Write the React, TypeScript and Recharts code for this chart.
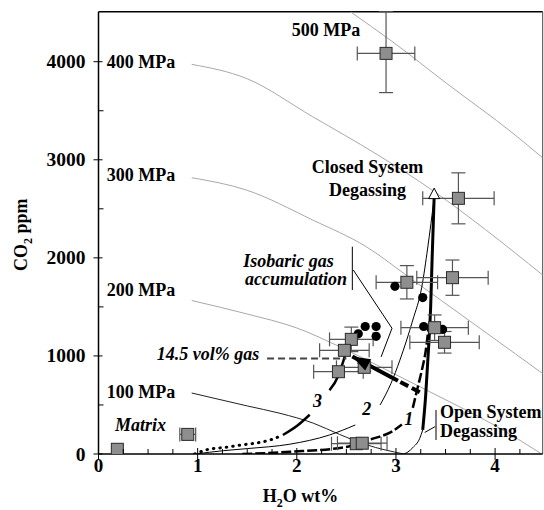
import React from 'react';
import { ComposedChart, XAxis, YAxis, Line, Scatter, ErrorBar, ReferenceLine, ReferenceDot } from 'recharts';

const FONT = '"Liberation Serif", "Times New Roman", Times, serif';

// isobars: CO2 (ppm) against H2O (wt%)
const isobar100 = [
  { x: 0.94, y: 622 }, { x: 1.5, y: 490 }, { x: 1.83, y: 415 }, { x: 2.17, y: 313 },
  { x: 2.43, y: 200 }, { x: 2.7, y: 95 }, { x: 3.08, y: 0 },
];
const isobar200 = [
  { x: 0.94, y: 1565 }, { x: 1.49, y: 1430 }, { x: 2.0, y: 1285 }, { x: 2.45, y: 1085 },
  { x: 2.9, y: 860 }, { x: 3.34, y: 635 }, { x: 3.64, y: 482 }, { x: 4.0, y: 290 }, { x: 4.47, y: 0 },
];
const isobar300 = [
  { x: 0.94, y: 2817 }, { x: 1.49, y: 2692 }, { x: 2.16, y: 2386 }, { x: 2.7, y: 2114 },
  { x: 3.17, y: 1774 }, { x: 3.85, y: 1280 }, { x: 4.48, y: 820 },
];
const isobar400 = [
  { x: 0.94, y: 3973 }, { x: 1.49, y: 3830 }, { x: 2.16, y: 3439 }, { x: 2.8, y: 3060 },
  { x: 3.38, y: 2680 }, { x: 3.9, y: 2290 }, { x: 4.48, y: 1825 },
];
const isobar500 = [
  { x: 2.54, y: 4510 }, { x: 2.97, y: 4200 }, { x: 3.51, y: 3780 }, { x: 4.18, y: 3270 }, { x: 4.48, y: 3020 },
];

// degassing paths
const closedSystem = [
  { x: 3.27, y: 245 }, { x: 3.3, y: 600 }, { x: 3.33, y: 1100 }, { x: 3.35, y: 1500 },
  { x: 3.365, y: 2000 }, { x: 3.385, y: 2610 },
];
const openTail = [
  { x: 3.08, y: 0 }, { x: 3.12, y: 20 }, { x: 3.17, y: 65 }, { x: 3.24, y: 160 }, { x: 3.27, y: 245 },
];
const path1Low = [
  { x: 1.45, y: 0 }, { x: 1.93, y: 22 }, { x: 2.5, y: 72 }, { x: 2.75, y: 150 }, { x: 2.97, y: 235 }, { x: 3.06, y: 300 },
];
const path1High = [
  { x: 3.17, y: 470 }, { x: 3.21, y: 640 }, { x: 3.26, y: 850 }, { x: 3.3, y: 1050 }, { x: 3.33, y: 1300 },
];
const path2Low = [
  { x: 0.98, y: 0 }, { x: 1.26, y: 34 }, { x: 1.5, y: 55 }, { x: 1.93, y: 100 }, { x: 2.33, y: 194 }, { x: 2.59, y: 296 },
];
const path2High = [
  { x: 2.84, y: 500 }, { x: 2.95, y: 720 }, { x: 3.04, y: 958 }, { x: 3.17, y: 1366 },
  { x: 3.26, y: 1700 }, { x: 3.32, y: 2100 }, { x: 3.385, y: 2610 },
];
const path3Dots = [
  { x: 0.97, y: 0 }, { x: 1.1, y: 45 }, { x: 1.28, y: 68 }, { x: 1.44, y: 92 },
  { x: 1.59, y: 112 }, { x: 1.73, y: 143 }, { x: 1.86, y: 194 },
];
const path3Mid = [{ x: 1.86, y: 194 }, { x: 2.0, y: 285 }, { x: 2.13, y: 400 }];
const path3High = [{ x: 2.33, y: 650 }, { x: 2.42, y: 800 }, { x: 2.47, y: 950 }, { x: 2.51, y: 1080 }];

const gasLine = [{ x: 1.7, y: 975 }, { x: 2.5, y: 975 }];
const arrowDashed = [{ x: 3.24, y: 630 }, { x: 3.02, y: 748 }];
const arrowSolid = [{ x: 3.02, y: 748 }, { x: 2.56, y: 995 }];
const arrowTip = [{ x: 2.56, y: 995 }];
const startPoint = [{ x: 3.385, y: 2650 }];

// leader lines for the notes
const isobaricBar = [{ x: 2.56, y: 1672 }, { x: 2.56, y: 2114 }];
const isobaricLeader = [{ x: 2.57, y: 1876 }, { x: 2.96, y: 1282 }, { x: 2.85, y: 990 }];
const openBar = [{ x: 3.404, y: 143 }, { x: 3.404, y: 449 }];
const openLeader = [{ x: 3.395, y: 279 }, { x: 3.29, y: 220 }];

// melt inclusions (grey squares) with errors
const inclusions = [
  { x: 2.9, y: 4085, ex: 0.29, ey: [400, 425] },
  { x: 3.63, y: 2607, ex: 0.36, ey: 260 },
  { x: 3.11, y: 1751, ex: 0.31, ey: 170 },
  { x: 3.57, y: 1798, ex: 0.36, ey: 180 },
  { x: 3.39, y: 1288, ex: 0.34, ey: 130 },
  { x: 3.49, y: 1139, ex: 0.35, ey: 110 },
  { x: 2.55, y: 1169, ex: 0.22, ey: 125 },
  { x: 2.48, y: 1057, ex: 0.25, ey: 0 },
  { x: 2.42, y: 839, ex: 0.25, ey: 0 },
  { x: 2.68, y: 884, ex: 0.28, ey: 40 },
  { x: 2.6, y: 105, ex: 0.25, ey: 0 },
  { x: 2.66, y: 110, ex: 0.25, ey: 0 },
];
const matrix = [
  { x: 0.19, y: 48, ex: 0, ey: 0 },
  { x: 0.9, y: 200, ex: 0.08, ey: 0 },
];
const blackDots = [
  { x: 2.62, y: 1225 }, { x: 2.69, y: 1300 }, { x: 2.8, y: 1300 }, { x: 2.8, y: 1200 },
  { x: 2.99, y: 1710 }, { x: 3.27, y: 1595 }, { x: 3.28, y: 1300 }, { x: 3.47, y: 1270 },
];

const xTicks = [0, 0.25, 0.5, 0.75, 1, 1.25, 1.5, 1.75, 2, 2.25, 2.5, 2.75, 3, 3.25, 3.5, 3.75, 4, 4.25];
const yTicks = [0, 500, 1000, 1500, 2000, 2500, 3000, 3500, 4000];

type Note = { x: number; y: number; text: string; anchor?: 'start' | 'middle' | 'end'; italic?: boolean };
const notes: Note[] = [
  { x: 1.949, y: 4262, text: '500 MPa' },
  { x: 0.083, y: 3933, text: '400 MPa' },
  { x: 0.083, y: 2784, text: '300 MPa' },
  { x: 0.083, y: 1611, text: '200 MPa' },
  { x: 0.083, y: 574, text: '100 MPa' },
  { x: 0.167, y: 238, text: 'Matrix', italic: true },
  { x: 0.587, y: 958, text: '14.5 vol% gas', italic: true },
  { x: 1.46, y: 1910, text: 'Isobaric gas', italic: true },
  { x: 1.478, y: 1723, text: 'accumulation', italic: true },
  { x: 2.713, y: 2862, text: 'Closed System', anchor: 'middle' },
  { x: 2.713, y: 2631, text: 'Degassing', anchor: 'middle' },
  { x: 3.444, y: 363, text: 'Open System' },
  { x: 3.444, y: 176, text: 'Degassing' },
  { x: 2.209, y: 482, text: '3', anchor: 'middle', italic: true },
  { x: 2.705, y: 398, text: '2', anchor: 'middle', italic: true },
  { x: 3.13, y: 296, text: '1', anchor: 'middle', italic: true },
];

const XTick = (p: any) => {
  const v = p.payload.value;
  const major = Number.isInteger(v);
  return (
    <g>
      <line x1={p.x} x2={p.x} y1={p.y - (major ? 6 : 5)} y2={p.y + (major ? 6 : 0)} stroke="#000" />
      {major && (
        <text x={p.x} y={p.y + 18} textAnchor="middle" fontFamily={FONT} fontWeight="bold" fontSize={19} fill="#000">
          {v}
        </text>
      )}
    </g>
  );
};

const YTick = (p: any) => {
  const v = p.payload.value;
  const major = v % 1000 === 0;
  return (
    <g>
      <line x1={p.x - (major ? 5 : 0)} x2={p.x + (major ? 4 : 5)} y1={p.y} y2={p.y} stroke="#000" />
      {major && (
        <text x={p.x - 13} y={p.y + 6.5} textAnchor="end" fontFamily={FONT} fontWeight="bold" fontSize={19.5} fill="#000">
          {v}
        </text>
      )}
    </g>
  );
};

const YTitle = (p: any) => {
  const vb = p.viewBox;
  const cx = vb.x + 27;
  const cy = vb.y + vb.height / 2 + 2;
  return (
    <text x={cx} y={cy} transform={`rotate(-90 ${cx} ${cy})`} textAnchor="middle" fontFamily={FONT} fontWeight="bold" fontSize={18} fill="#000">
      CO<tspan fontSize={12} dy={5}>2</tspan><tspan dy={-5}> ppm</tspan>
    </text>
  );
};

const XTitle = (p: any) => {
  const vb = p.viewBox;
  return (
    <text x={vb.x + vb.width * 0.455} y={vb.y + 48} textAnchor="middle" fontFamily={FONT} fontWeight="bold" fontSize={18} fill="#000">
      H<tspan fontSize={12} dy={5}>2</tspan><tspan dy={-5}>O wt%</tspan>
    </text>
  );
};

const Square = (p: any) => (
  <rect x={p.cx - 6} y={p.cy - 6} width={12} height={12} fill="#8e8e8e" stroke="#2a2a2a" strokeWidth={1} />
);
const Dot = (p: any) => <circle cx={p.cx} cy={p.cy} r={4.6} fill="#000" />;
const Triangle = (p: any) => (
  <polygon
    points={`${p.cx},${p.cy - 6} ${p.cx - 5.5},${p.cy + 4.5} ${p.cx + 5.5},${p.cy + 4.5}`}
    fill="#fff"
    stroke="#000"
    strokeWidth={1}
  />
);
const ArrowHead = (p: any) => (
  <polygon points="0,0 -18,-6.5 -18,6.5" fill="#000" transform={`translate(${p.cx} ${p.cy}) rotate(208)`} />
);

const path = (data: { x: number; y: number }[], stroke: string, width: number, extra: any = {}) => (
  <Line
    data={data}
    dataKey="y"
    type="monotone"
    stroke={stroke}
    strokeWidth={width}
    dot={false}
    activeDot={false}
    legendType="none"
    isAnimationActive={false}
    {...extra}
  />
);

export default function App() {
  return (
    <div style={{ position: 'absolute', left: 0, top: 0, width: 544, height: 510, background: '#fff' }}>
      <ComposedChart width={544} height={510} margin={{ top: 11.7, right: 1.3, bottom: 0, left: 0 }}>
        <XAxis
          type="number"
          dataKey="x"
          domain={[0, 4.48]}
          allowDataOverflow
          ticks={xTicks}
          interval={0}
          tickSize={0}
          tickMargin={0}
          tickLine={false}
          tick={XTick}
          height={56}
          axisLine={{ stroke: '#000', strokeWidth: 1.5 }}
          label={<XTitle />}
        />
        <YAxis
          type="number"
          dataKey="y"
          domain={[0, 4510]}
          allowDataOverflow
          ticks={yTicks}
          interval={0}
          tickSize={0}
          tickMargin={0}
          tickLine={false}
          tick={YTick}
          width={98.5}
          axisLine={{ stroke: '#000', strokeWidth: 1.5 }}
          label={<YTitle />}
        />
        <ReferenceLine y={4510} stroke="#000" strokeWidth={1.5} />
        <ReferenceLine x={4.48} stroke="#444" strokeWidth={1} />

        {path(isobar500, '#a8a8a8', 1)}
        {path(isobar400, '#a8a8a8', 1)}
        {path(isobar300, '#a8a8a8', 1)}
        {path(isobar200, '#a8a8a8', 1)}
        {path(isobar100, '#222', 1)}

        {path(path3Dots, '#000', 3, { strokeDasharray: '0.5 6', strokeLinecap: 'round' })}
        {path(path3Mid, '#000', 2.5)}
        {path(path3High, '#000', 2.5)}
        {path(path2Low, '#000', 1)}
        {path(path2High, '#000', 1)}
        {path(path1Low, '#000', 2.5, { strokeDasharray: '10 3' })}
        {path(path1High, '#000', 2.5, { strokeDasharray: '10 3' })}
        {path(openTail, '#000', 1)}
        {path(closedSystem, '#000', 3)}
        {path(gasLine, '#444', 2, { strokeDasharray: '7 4', type: 'linear' })}

        {path(isobaricBar, '#000', 1, { type: 'linear' })}
        {path(isobaricLeader, '#000', 1, { type: 'linear' })}
        {path(openBar, '#000', 1, { type: 'linear' })}
        {path(openLeader, '#000', 1, { type: 'linear' })}

        <Scatter data={blackDots} shape={Dot} isAnimationActive={false} legendType="none" />
        <Scatter data={inclusions} shape={Square} isAnimationActive={false} legendType="none">
          <ErrorBar dataKey="ex" direction="x" width={7} stroke="#555" strokeWidth={1.2} />
          <ErrorBar dataKey="ey" direction="y" width={7} stroke="#555" strokeWidth={1.2} />
        </Scatter>
        <Scatter data={matrix} shape={Square} isAnimationActive={false} legendType="none">
          <ErrorBar dataKey="ex" direction="x" width={7} stroke="#555" strokeWidth={1.2} />
        </Scatter>

        {path(arrowDashed, '#000', 4, { type: 'linear', strokeDasharray: '9 4' })}
        {path(arrowSolid, '#000', 4, { type: 'linear' })}
        <Scatter data={arrowTip} shape={ArrowHead} isAnimationActive={false} legendType="none" />
        <Scatter data={startPoint} shape={Triangle} isAnimationActive={false} legendType="none" />

        {notes.map((n, i) => (
          <ReferenceDot
            key={i}
            x={n.x}
            y={n.y}
            r={0}
            shape={(p: any) => (
              <text
                x={p.cx}
                y={p.cy}
                textAnchor={n.anchor || 'start'}
                fontFamily={FONT}
                fontWeight="bold"
                fontStyle={n.italic ? 'italic' : 'normal'}
                fontSize={18}
                fill="#000"
              >
                {n.text}
              </text>
            )}
          />
        ))}
      </ComposedChart>
    </div>
  );
}
